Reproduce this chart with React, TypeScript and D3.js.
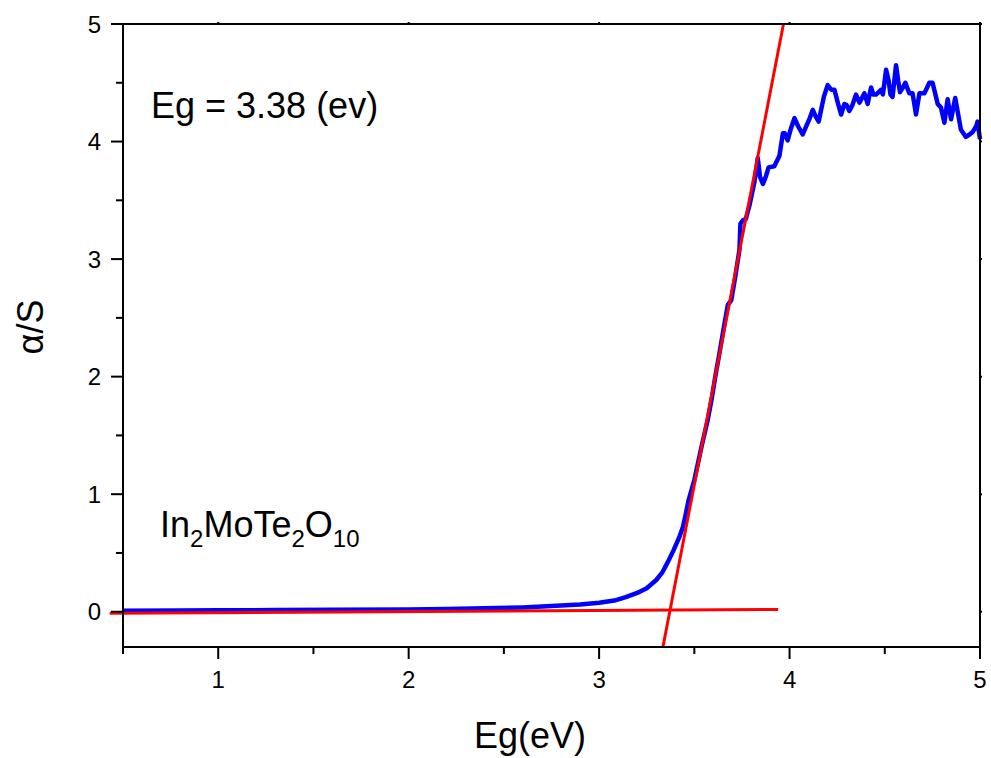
import React from "react";
import * as d3 from "d3";

const energy = [0.5,0.8,1.0,1.3,1.6,2.0,2.2,2.4,2.6,2.75,2.9,3.0,3.08,3.14,3.2,3.25,3.3,3.33,3.36,3.39,3.42,3.44,3.455,3.47,3.5,3.54,3.57,3.59,3.61,3.632,3.655,3.676,3.694,3.715,3.737,3.742,3.755,3.77,3.79,3.816,3.833,3.845,3.86,3.875,3.89,3.92,3.947,3.965,3.975,3.99,4.005,4.026,4.045,4.069,4.09,4.104,4.122,4.138,4.153,4.18,4.2,4.22,4.236,4.255,4.271,4.288,4.3,4.314,4.33,4.349,4.367,4.393,4.41,4.428,4.44,4.454,4.48,4.49,4.507,4.52,4.53,4.541,4.559,4.57,4.58,4.595,4.608,4.629,4.646,4.664,4.682,4.708,4.734,4.751,4.778,4.795,4.813,4.83,4.848,4.87,4.9,4.926,4.945,4.961,4.98,4.987,5.0];
const absorb = [0.009,0.011,0.012,0.014,0.016,0.02,0.024,0.029,0.037,0.048,0.062,0.077,0.095,0.125,0.16,0.2,0.27,0.33,0.42,0.52,0.63,0.72,0.83,0.95,1.12,1.42,1.63,1.8,2.0,2.2,2.42,2.61,2.65,2.85,3.08,3.3,3.33,3.34,3.46,3.66,3.86,3.7,3.64,3.7,3.78,3.79,3.88,4.07,4.07,4.01,4.1,4.2,4.13,4.06,4.14,4.19,4.27,4.21,4.17,4.38,4.48,4.44,4.44,4.32,4.23,4.32,4.31,4.26,4.31,4.4,4.33,4.41,4.32,4.46,4.4,4.4,4.44,4.4,4.61,4.52,4.4,4.38,4.65,4.52,4.42,4.46,4.5,4.41,4.41,4.23,4.41,4.41,4.5,4.5,4.32,4.29,4.16,4.36,4.19,4.37,4.1,4.04,4.06,4.08,4.13,4.17,4.02];

const tangentLine: [number, number][] = [[3.335, -0.3], [3.968, 5]];
const baseLine: [number, number][] = [[0.43, -0.013], [3.94, 0.02]];

const xMajor = [1, 2, 3, 4, 5];
const xMinor = [0.5, 1.5, 2.5, 3.5, 4.5];
const yMajor = [0, 1, 2, 3, 4, 5];
const yMinor = [0.5, 1.5, 2.5, 3.5, 4.5];

export default function App() {
  const L = 123, R = 980, T = 24, B = 647;
  const x = d3.scaleLinear().domain([0.5, 5]).range([L, R]);
  const y = d3.scaleLinear().domain([-0.3, 5]).range([B, T]);
  const pts: [number, number][] = energy.map((e, i) => [e, absorb[i]]);
  const line = d3.line<[number, number]>().x(d => x(d[0])).y(d => y(d[1]));
  const font = "'Liberation Sans', Arial, sans-serif";
  return (
    <svg width={991} height={758} style={{ position: "absolute", left: 0, top: 0, background: "#fff" }} fontFamily={font}>
      <rect x={0} y={0} width={991} height={758} fill="#fff" />
      <path d={line(pts) || ""} fill="none" stroke="#0000ff" strokeWidth={4.5} strokeLinejoin="round" />
      <path d={line(tangentLine) || ""} fill="none" stroke="#ff0000" strokeWidth={3} />
      <path d={line(baseLine) || ""} fill="none" stroke="#ff0000" strokeWidth={3} />
      <rect x={L} y={T} width={R - L} height={B - T} fill="none" stroke="#000" strokeWidth={2} />
      {xMajor.map(v => (
        <g key={"xm" + v}>
          <line x1={x(v)} x2={x(v)} y1={B} y2={B + 12} stroke="#000" strokeWidth={2} />
          <line x1={x(v)} x2={x(v)} y1={T} y2={T - 2} stroke="#000" strokeWidth={2} />
          <text x={x(v)} y={688} fontSize={24} textAnchor="middle">{v}</text>
        </g>
      ))}
      {xMinor.map(v => (
        <g key={"xn" + v}>
          <line x1={x(v)} x2={x(v)} y1={B} y2={B + 7} stroke="#000" strokeWidth={2} />
          <line x1={x(v)} x2={x(v)} y1={T} y2={T - 1} stroke="#000" strokeWidth={2} />
        </g>
      ))}
      {yMajor.map(v => (
        <g key={"ym" + v}>
          <line x1={L} x2={L - 12} y1={y(v)} y2={y(v)} stroke="#000" strokeWidth={2} />
          <line x1={R} x2={R + 2} y1={y(v)} y2={y(v)} stroke="#000" strokeWidth={2} />
          <text x={101} y={y(v) + 8.5} fontSize={24} textAnchor="end">{v}</text>
        </g>
      ))}
      {yMinor.map(v => (
        <g key={"yn" + v}>
          <line x1={L} x2={L - 7} y1={y(v)} y2={y(v)} stroke="#000" strokeWidth={2} />
          <line x1={R} x2={R + 1} y1={y(v)} y2={y(v)} stroke="#000" strokeWidth={2} />
        </g>
      ))}
      <text x={530} y={748} fontSize={36} textAnchor="middle">Eg(eV)</text>
      <text transform="translate(43,327) rotate(-90)" fontSize={36} textAnchor="middle">α/S</text>
      <text x={151} y={118} fontSize={36}>Eg = 3.38 (ev)</text>
      <text x={160} y={537} fontSize={36}>
        In<tspan fontSize={24} dy={10}>2</tspan><tspan dy={-10}>MoTe</tspan><tspan fontSize={24} dy={10}>2</tspan><tspan dy={-10}>O</tspan><tspan fontSize={24} dy={10}>10</tspan>
      </text>
    </svg>
  );
}
